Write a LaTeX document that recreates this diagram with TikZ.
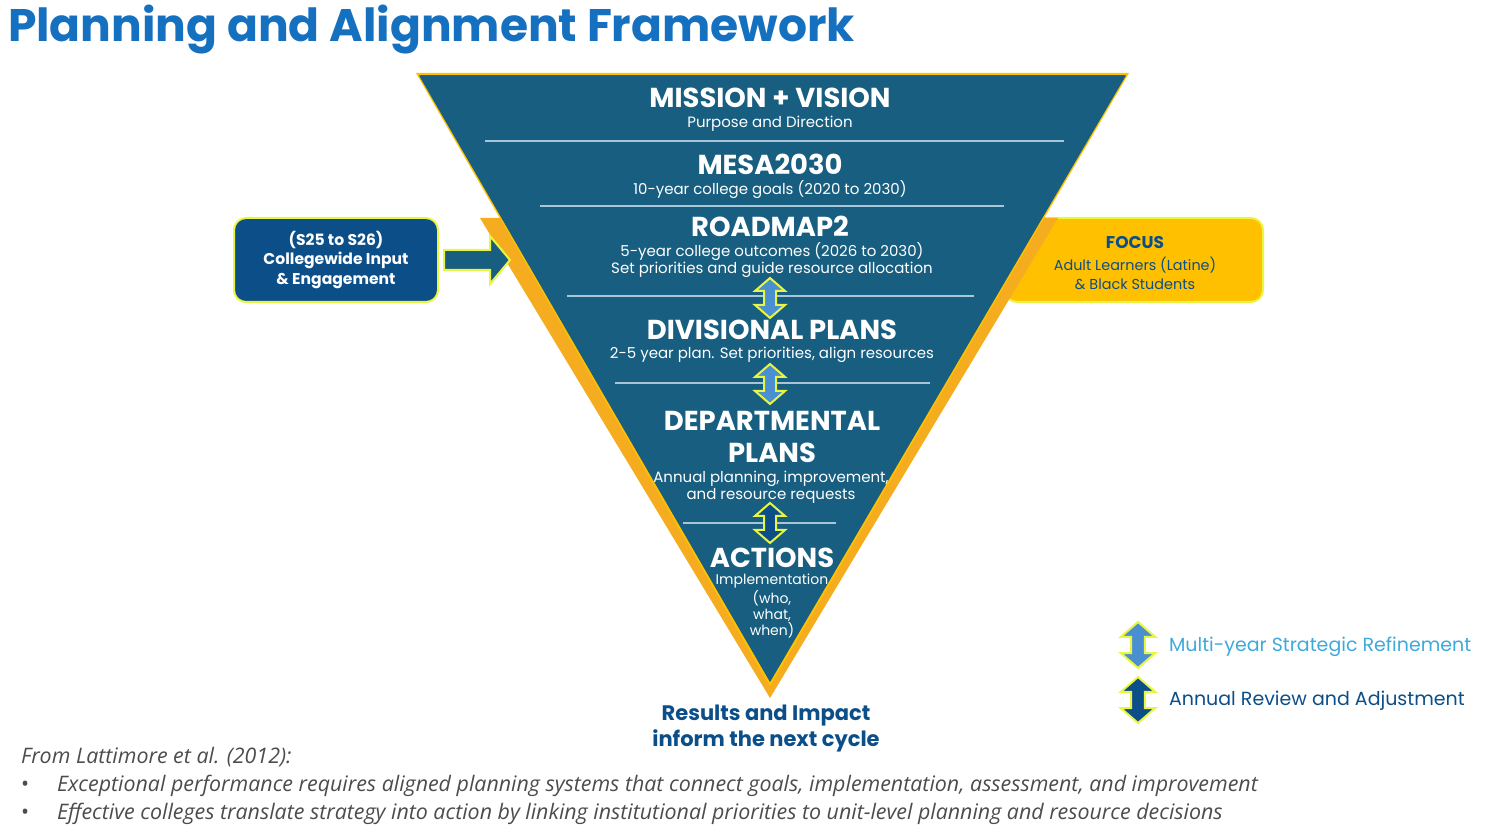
\documentclass[tikz,border=0pt]{standalone}
\usepackage{fontspec}
\setmainfont{Poppins}
\newfontfamily\notef{Open Sans}
\definecolor{tri}{HTML}{175E80}
\definecolor{org}{HTML}{F5AC1E}
\definecolor{dblue}{HTML}{0B4E88}
\definecolor{ttl}{HTML}{1670C0}
\definecolor{gold}{HTML}{FFC000}
\definecolor{ylw}{HTML}{E8F542}
\definecolor{lblue}{HTML}{4A90D0}
\definecolor{legb}{HTML}{3FA9DB}
\definecolor{sep}{HTML}{A9C6D6}
\tikzset{
 dbl/.pic={\path[fill=#1,draw=ylw,line width=1pt] (0,-20)--(15,-7)--(6,-7)--(6,7)--(15,7)--(0,20)--(-15,7)--(-6,7)--(-6,-7)--(-15,-7)--cycle;},
 hd/.style={text=white,font=\fontsize{13.7}{15}\selectfont\bfseries,align=center},
 sb/.style={text=white,font=\fontsize{7.5}{8.6}\selectfont,align=center},
 sepl/.style={draw=sep,line width=0.6pt},
 note/.style={text=black!70,font=\notef\itshape\fontsize{10.7}{12}\selectfont,anchor=west}
}
\begin{document}
\begin{tikzpicture}[x=0.5pt,y=-0.5pt]
\useasboundingbox (0,0) rectangle (1495,833);
\node[anchor=west,text=ttl,font=\fontsize{22.8}{24}\selectfont\bfseries] (title) at (1,30) {Planning and Alignment Framework};
% side boxes
\node[draw=ylw,line width=1pt,fill=gold,rounded corners=6pt,minimum width=129pt,minimum height=42pt] (focusbox) at (1134,260) {};
\node[text=dblue,font=\fontsize{8.5}{10}\selectfont\bfseries,align=center] (focus) at (1135,243) {FOCUS};
\node[text=dblue,font=\fontsize{7.2}{9.6}\selectfont,align=center] (focus2) at (1135,273) {Adult Learners (Latine)\\\& Black Students};
\path[fill=org] (480,218)--(1058,218)--(770,698)--cycle;
\path[fill=tri,draw=gold,line width=1.2pt] (418,74)--(1127,74)--(770,684)--cycle;
\path[fill=tri] (419,75.5)--(1126,75.5)--(770,682)--cycle;
\node[draw=ylw,line width=1pt,fill=dblue,rounded corners=6pt,minimum width=102pt,minimum height=42pt,text=white,font=\fontsize{7.8}{9.6}\selectfont\bfseries,align=center] (input) at (336,260) {(S25 to S26)\\Collegewide Input\\\& Engagement};
\path[fill=tri,draw=ylw,line width=1pt] (444,250)--(490,250)--(490,236)--(510,260)--(490,284)--(490,270)--(444,270)--cycle;
% separators
\draw[sepl] (485,141)--(1064,141);
\draw[sepl] (540,206)--(1004,206);
\draw[sepl] (567,296)--(974,296);
\draw[sepl] (615,383)--(930,383);
\draw[sepl] (683,523)--(836,523);
% texts
\node[hd] (mv) at (770,98) {MISSION + VISION};
\node[sb] (mvs) at (770,124) {Purpose and Direction};
\node[hd] (mesa) at (770,164) {MESA2030};
\node[sb] (mesas) at (770,190) {10-year college goals (2020 to 2030)};
\node[hd] (rm) at (770,226) {ROADMAP2};
\node[sb] (rms) at (772,260) {5-year college outcomes (2026 to 2030)\\Set priorities and guide resource allocation};
\node[hd] (div) at (772,330) {DIVISIONAL PLANS};
\node[sb] (divs) at (772,355) {2-5 year plan. Set priorities, align resources};
\node[hd,font=\fontsize{13.7}{16}\selectfont\bfseries] (dep) at (772,437) {DEPARTMENTAL\\PLANS};
\node[sb] (deps) at (771,487) {Annual planning, improvement,\\and resource requests};
\node[hd] (act) at (772,558) {ACTIONS};
\node[sb,font=\fontsize{7}{8}\selectfont] (acts) at (772,606) {Implementation\\(who,\\what,\\when)};
\pic at (770,298) {dbl=lblue};
\pic at (770,384) {dbl=lblue};
\pic at (770,523) {dbl=dblue};
\node[text=dblue,font=\fontsize{10.5}{13}\selectfont\bfseries,align=center] (res) at (766,729) {Results and Impact\\inform the next cycle};
% legend
\pic[scale=1.15] at (1138,645) {dbl=lblue};
\pic[scale=1.15] at (1138,700) {dbl=dblue};
\node[anchor=west,text=legb,font=\fontsize{9.5}{11}\selectfont] (l1) at (1162,647) {Multi-year Strategic Refinement};
\node[anchor=west,text=dblue,font=\fontsize{9.5}{11}\selectfont] (l2) at (1162,701) {Annual Review and Adjustment};
% notes
\node[note] (n0) at (14,757) {From Lattimore et al. (2012):};
\node[note] (n1) at (14,786) {\textup{•}\hspace{14pt}Exceptional performance requires aligned planning systems that connect goals, implementation, assessment, and improvement};
\node[note] (n2) at (14,814) {\textup{•}\hspace{14pt}Effective colleges translate strategy into action by linking institutional priorities to unit-level planning and resource decisions};
\end{tikzpicture}
\end{document}
